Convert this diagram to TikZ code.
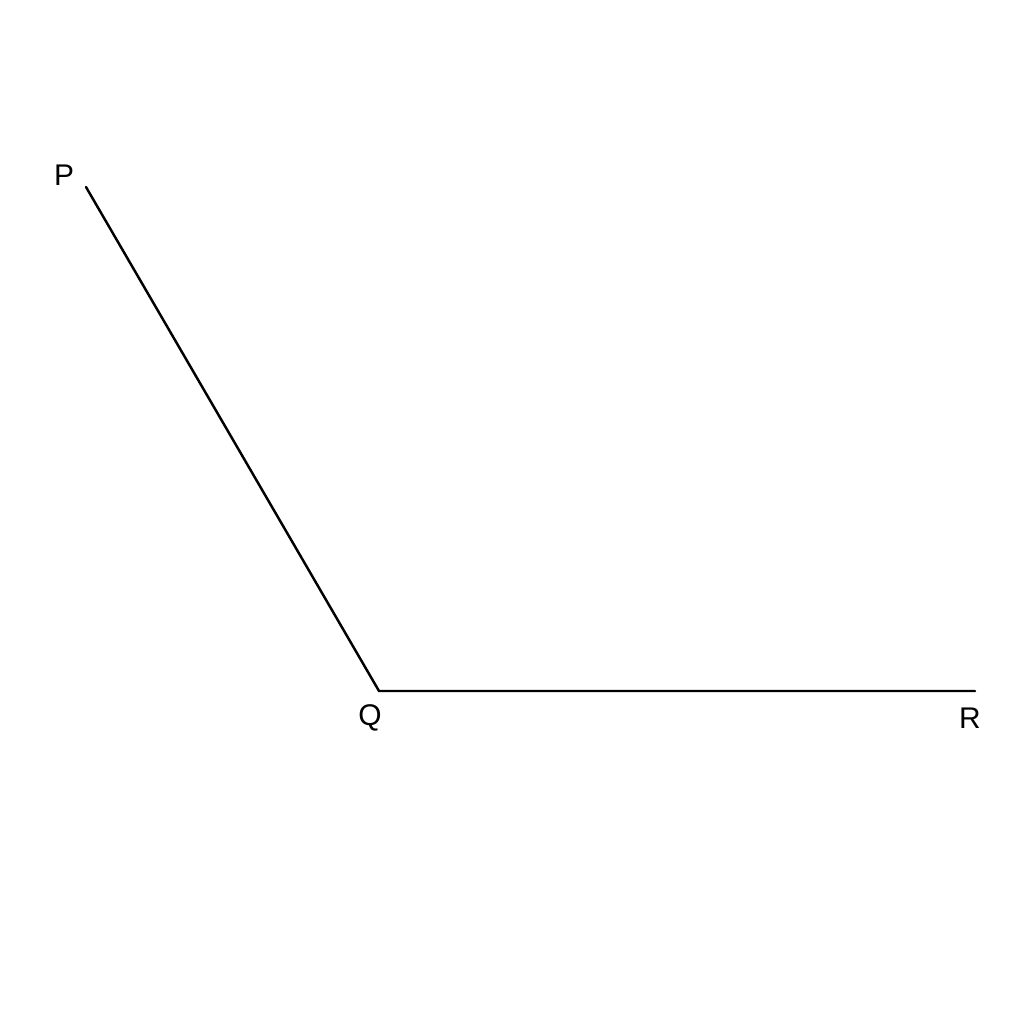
\documentclass[tikz,border=0pt]{standalone}
\usepackage{fontspec}
\setmainfont{Liberation Sans}
\usetikzlibrary{positioning}

\begin{document}
\begin{tikzpicture}[x=0.01cm,y=-0.01cm,
	lbl/.style={inner sep=0pt,font=\fontsize{8.5}{10}\selectfont},
	side/.style={line width=0.7pt,line cap=round,line join=miter}]
	\useasboundingbox (0,0) rectangle (1024,1024);
	\coordinate (p) at (86,187);
	\coordinate (q) at (379,691);
	\coordinate (r) at (975,691);
	\node[lbl] (P) at (64,175) {P};
	\node[lbl] (Q) at (370,718) {Q};
	\node[lbl] (R) at (970,718) {R};
	
	\draw[side] (p) -- (q) -- (r);
\end{tikzpicture}
\end{document}
